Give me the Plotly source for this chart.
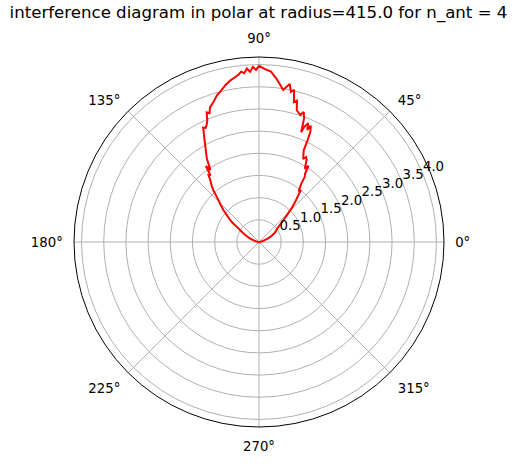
import plotly.graph_objects as go

# angles in degrees and gain values
theta = [0, 4, 8, 12, 16, 20, 22, 24, 26, 28, 30, 32, 34, 36, 38, 40, 42, 44,
         46, 48, 49, 50, 51, 52, 54, 55, 56, 57, 58, 60, 61, 62, 64, 64.5, 65,
         66, 66.7, 67.5, 68.5, 69, 69.5, 70, 71, 72, 74, 75, 76, 77, 78, 79,
         80, 81, 82, 84, 86, 88, 90, 91, 92, 93, 94, 95, 96, 97, 98, 100,
         102, 104, 106, 108, 110, 111, 112, 113, 114, 115, 116, 118, 120,
         122, 124, 125, 126, 127, 128, 130, 131, 132, 134, 136, 138, 140,
         142, 144, 146, 148, 150, 152, 154, 156, 158, 160, 164, 168, 172,
         176, 180, 360]
r = [0.0, 0.01, 0.03, 0.06, 0.10, 0.16, 0.21, 0.27, 0.31, 0.36, 0.40, 0.44,
     0.47, 0.50, 0.56, 0.65, 0.75, 0.88, 1.06, 1.22, 1.30, 1.38, 1.50, 1.45,
     1.62, 1.80, 1.86, 2.05, 1.95, 2.15, 2.19, 2.12, 2.30, 2.55, 2.74, 2.87,
     2.75, 2.90, 2.79, 2.65, 2.81, 2.97, 3.10, 3.01, 3.09, 3.30, 3.25, 3.52,
     3.46, 3.63, 3.55, 3.47, 3.55, 3.71, 3.85, 3.90, 3.97, 3.88, 3.95, 3.84,
     3.92, 3.82, 3.86, 3.80, 3.76, 3.70, 3.62, 3.52, 3.44, 3.32, 3.23, 3.11,
     3.15, 2.98, 2.90, 2.84, 2.87, 2.62, 2.40, 2.22, 1.96, 2.09, 1.86, 1.89,
     1.79, 1.66, 1.59, 1.50, 1.32, 1.20, 1.08, 0.95, 0.85, 0.74, 0.58, 0.50,
     0.43, 0.37, 0.32, 0.27, 0.22, 0.18, 0.11, 0.06, 0.03, 0.01, 0.0, 0.0]

r_ticks = [0.5, 1.0, 1.5, 2.0, 2.5, 3.0, 3.5, 4.0]
theta_ticks = [0, 45, 90, 135, 180, 225, 270, 315]
label_angle = 22.5

fig = go.Figure()
fig.add_trace(go.Scatterpolar(theta=theta, r=r, mode="lines",
                              line=dict(color="red", width=2)))

# radial tick labels, horizontal, like matplotlib puts them
fig.add_trace(go.Scatterpolar(theta=[label_angle] * len(r_ticks), r=r_ticks,
                              mode="text", text=["%.1f" % v for v in r_ticks],
                              textposition="top right",
                              textfont=dict(size=13.3, color="black"),
                              hoverinfo="skip"))

W, H = 517, 464
fig.update_layout(
    width=W, height=H,
    margin=dict(l=0, r=0, t=0, b=0),
    paper_bgcolor="white",
    showlegend=False,
    font=dict(family="DejaVu Sans", size=13.3, color="black"),
    title=dict(text="interference diagram in polar at radius=415.0 for n_ant = 4",
               x=0.5, xanchor="center", y=1 - 12 / H, yanchor="middle",
               font=dict(size=16.6, color="black")),
    polar=dict(
        domain=dict(x=[74 / W, 444 / W], y=[37 / H, 407 / H]),
        bgcolor="white",
        radialaxis=dict(range=[0, 4.17], tickvals=r_ticks,
                        showticklabels=False,
                        angle=label_angle, showline=False, ticks="",
                        gridcolor="#b0b0b0", gridwidth=1),
        angularaxis=dict(tickvals=theta_ticks,
                         ticktext=["%d°" % v for v in theta_ticks],
                         direction="counterclockwise", rotation=0,
                         gridcolor="#b0b0b0", gridwidth=1,
                         ticks="outside", ticklen=8,
                         tickcolor="rgba(0,0,0,0)",
                         linecolor="black", linewidth=1),
    ),
)

fig.write_html("out.html", config={"displayModeBar": False},
               post_script="document.body.style.margin = '0';")
